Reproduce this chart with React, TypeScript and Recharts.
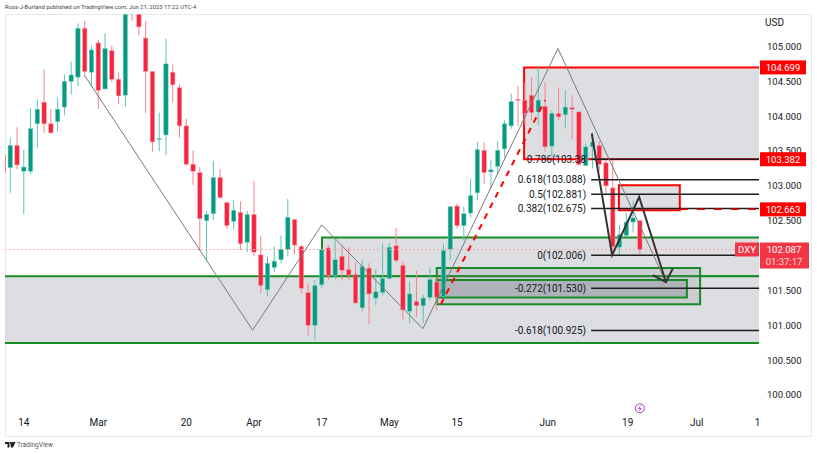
import {
  Bar,
  ComposedChart,
  Line,
  ReferenceArea,
  ReferenceDot,
  ReferenceLine,
  XAxis,
  YAxis,
} from "recharts";

const opens = [103.44, 103.26, 103.58, 103.21, 103.21, 103.89, 104.2, 103.89, 103.92, 104.13, 104.5, 104.56, 105.26, 104.63, 105.05, 104.39, 104.94, 104.53, 104.3, 105.75, 105.6, 105.12, 104.64, 103.67, 103.73, 104.63, 104.41, 103.86, 103.31, 103.19, 102.5, 102.6, 103.12, 102.76, 102.49, 102.62, 102.19, 102.59, 102.01, 101.51, 101.83, 101.94, 102.09, 102.52, 102.13, 101.47, 101.0, 101.58, 102.11, 101.71, 101.99, 101.8, 101.73, 101.25, 101.82, 101.39, 101.47, 101.67, 102.14, 101.86, 101.2, 101.34, 101.28, 101.4, 101.62, 101.41, 102.09, 102.71, 102.43, 102.61, 102.9, 103.51, 103.2, 103.28, 103.53, 103.86, 104.24, 104.23, 104.3, 104.06, 104.14, 103.57, 104.04, 104.02, 104.12, 104.06, 103.29, 103.56, 103.58, 103.33, 102.97, 102.12, 102.29, 102.48, 102.5];
const highs = [103.5, 103.69, 103.84, 103.52, 104.12, 104.24, 104.67, 104.1, 104.26, 104.6, 104.78, 105.33, 105.37, 105.01, 105.1, 105.19, 105.01, 104.63, 105.75, 105.9, 105.7, 105.36, 104.64, 104.05, 105.11, 104.74, 104.46, 103.96, 103.51, 103.27, 102.64, 103.36, 103.24, 102.77, 102.79, 102.78, 102.64, 103.07, 102.28, 101.99, 102.13, 102.29, 102.81, 102.52, 102.16, 101.6, 101.65, 102.09, 102.15, 102.25, 102.15, 102.12, 101.91, 101.94, 101.89, 101.8, 102.17, 102.18, 102.4, 101.92, 101.63, 101.78, 101.44, 101.83, 101.7, 102.16, 102.71, 102.75, 102.7, 103.1, 103.63, 103.62, 103.37, 103.64, 103.94, 104.32, 104.43, 104.48, 104.56, 104.7, 104.49, 104.08, 104.41, 104.37, 104.3, 104.07, 103.61, 103.77, 103.64, 103.4, 103.37, 102.44, 102.61, 102.79, 102.51];
const lows = [103.15, 102.9, 103.24, 102.59, 103.17, 103.54, 103.76, 103.75, 103.78, 104.01, 104.31, 104.43, 104.56, 104.42, 104.1, 104.38, 104.49, 104.17, 104.13, 105.37, 105.16, 104.04, 103.49, 103.5, 103.44, 104.2, 103.69, 103.29, 103.01, 102.07, 101.92, 102.51, 102.82, 102.38, 102.37, 102.08, 102.05, 101.99, 101.46, 101.42, 101.76, 101.89, 101.99, 102.02, 101.46, 100.85, 100.79, 101.54, 101.65, 101.66, 101.64, 101.65, 101.31, 101.2, 101.02, 101.29, 101.43, 101.66, 101.9, 101.07, 101.03, 101.12, 101.03, 101.36, 101.22, 101.4, 101.93, 102.39, 102.22, 102.55, 102.79, 103.03, 102.96, 103.16, 103.41, 103.82, 103.85, 103.88, 103.94, 103.87, 103.49, 103.41, 103.94, 103.82, 103.67, 103.29, 103.28, 103.25, 103.22, 102.87, 102.01, 102.01, 102.28, 102.33, 102.02];
const closes = [103.19, 103.58, 103.3, 103.27, 103.82, 104.1, 103.89, 103.76, 104.1, 104.5, 104.59, 105.26, 104.64, 104.95, 104.37, 104.97, 104.53, 104.29, 105.6, 105.62, 105.28, 104.64, 103.63, 103.68, 104.75, 104.45, 103.86, 103.31, 103.21, 102.53, 102.59, 103.12, 102.83, 102.43, 102.65, 102.17, 102.59, 102.05, 101.57, 101.89, 101.92, 102.09, 102.55, 102.15, 101.53, 101.0, 101.57, 102.09, 101.71, 101.94, 101.79, 101.72, 101.32, 101.84, 101.45, 101.48, 101.67, 102.12, 101.93, 101.22, 101.45, 101.28, 101.39, 101.66, 101.4, 102.07, 102.7, 102.43, 102.6, 102.86, 103.52, 103.19, 103.23, 103.51, 103.89, 104.21, 104.23, 104.04, 104.05, 104.23, 103.56, 104.04, 103.99, 104.13, 104.1, 103.31, 103.56, 103.63, 103.31, 103, 102.13, 102.3, 102.48, 102.54, 102.087];

// 102.000 sits behind the DXY tag in the reference, so it is left out
const priceTicks = [105, 104.5, 104, 103.5, 103, 102.5, 101.5, 101, 100.5, 100];
const timeTicks = [2, 13, 26, 36, 46, 56, 66, 79.4, 91.2, 101.4, 110.4];
const timeLabels = ["14", "Mar", "20", "Apr", "17", "May", "15", "Jun", "19", "Jul", "1"];

const swingLine = [
  { i: 11, p: 104.58 },
  { i: 35.8, p: 100.93 },
  { i: 46, p: 102.44 },
  { i: 60.95, p: 100.95 },
  { i: 80.9, p: 104.97 },
  { i: 96.7, p: 101.65 },
];
const arrowLine = [
  { i: 85.9, p: 103.75 },
  { i: 88.9, p: 102.006 },
  { i: 92.9, p: 102.84 },
  { i: 96.85, p: 101.62 },
];
const arrowHead = [
  { i: 94.9, p: 101.72 },
  { i: 96.85, p: 101.62 },
  { i: 97.9, p: 101.82 },
];
const dashedTrend = [
  { i: 63.6, p: 101.3 },
  { i: 79, p: 104.23 },
];

const fibLevels = [
  { label: "0.786(103.38", p: 103.382 },
  { label: "0.618(103.088)", p: 103.088 },
  { label: "0.5(102.881)", p: 102.881 },
  { label: "0.382(102.675)", p: 102.675 },
  { label: "0(102.006)", p: 102.006 },
  { label: "-0.272(101.530)", p: 101.53 },
  { label: "-0.618(100.925)", p: 100.925 },
];
const redTags = [104.699, 103.382, 102.663];

const X_MIN = -0.78;
const X_MAX = 110.6;
// boxes that run off the pane are drawn past it and clipped, so no end stroke shows
const OFF_LEFT = -4;
const OFF_RIGHT = 114;
const FIB_START = 85.8;
const FONT = "Roboto, sans-serif";
const INK = "#131722";

const rows = opens.map((open, k) => ({
  i: k - 1,
  open,
  high: highs[k],
  low: lows[k],
  close: closes[k],
  range: [lows[k], highs[k]],
}));

function Candle(props: any) {
  const { x, y, width, height, payload } = props;
  const up = payload.close >= payload.open;
  const perUnit = height / (payload.high - payload.low);
  const top = y + (payload.high - Math.max(payload.open, payload.close)) * perUnit;
  const body = Math.max(Math.abs(payload.close - payload.open) * perUnit, 1);
  const cx = x + width / 2;
  return (
    <g>
      <line x1={cx} x2={cx} y1={y} y2={y + height} stroke={up ? "#5cc4b1" : "#f9808c"} strokeWidth={1} />
      <rect
        x={cx - 2.2}
        y={top}
        width={4.4}
        height={body}
        fill={up ? "#089981" : "#f5263f"}
        stroke={up ? "#7fd3c4" : "#fb9aa3"}
        strokeWidth={0.5}
      />
    </g>
  );
}

function PriceTag({ viewBox, value }: any) {
  const x = viewBox.x + viewBox.width + 1;
  return (
    <g>
      <rect x={x} y={viewBox.y - 7} width={46} height={14} fill="#ff0000" />
      <text x={x + 23} y={viewBox.y + 3.5} textAnchor="middle" fill="#fff" fontSize={9.5} fontFamily={FONT}>
        {value}
      </text>
    </g>
  );
}

function LastPriceTag({ viewBox }: any) {
  const x = viewBox.x + viewBox.width;
  const y = viewBox.y - 7;
  return (
    <g fontFamily={FONT} fontSize={9.5} fill="#fff">
      <rect x={x - 24} y={y} width={24} height={14} fill="#f23645" />
      <text x={x - 12} y={y + 10.5} textAnchor="middle">DXY</text>
      <rect x={x + 1} y={y} width={49} height={26} fill="#f23645" />
      <text x={x + 25} y={y + 10.5} textAnchor="middle">102.087</text>
      <text x={x + 25} y={y + 22} textAnchor="middle" fillOpacity={0.8}>01:37:17</text>
    </g>
  );
}

function FibLabel({ viewBox, text }: any) {
  return (
    <text x={viewBox.x - 5} y={viewBox.y + 3.5} textAnchor="end" fill={INK} fontSize={10} fontFamily={FONT}>
      {text}
    </text>
  );
}

function BoltIcon({ cx, cy }: any) {
  return (
    <g fill="none" stroke="#9c27b0">
      <circle cx={cx} cy={cy} r={4.5} strokeWidth={0.9} />
      <path d={`M${cx + 0.8} ${cy - 2.6}L${cx - 1.4} ${cy + 0.3}H${cx + 1.4}L${cx - 0.8} ${cy + 2.6}`} strokeWidth={0.8} />
    </g>
  );
}

export default function App() {
  return (
    <div style={{ position: "absolute", left: 0, top: 0, width: 817, height: 454, background: "#fff", overflow: "hidden" }}>
      <div style={{ position: "absolute", left: 5, top: 3, fontFamily: FONT, fontSize: 5.9, lineHeight: "9px", color: "#444", whiteSpace: "nowrap" }}>
        Ross-J-Burland published on TradingView.com, Jun 21, 2023 17:22 UTC-4
      </div>
      <div style={{ position: "absolute", left: 5, top: 14, width: 805, height: 421, border: "1px solid #e6e8ee" }} />
      <div style={{ position: "absolute", left: 765, top: 17, fontFamily: FONT, fontSize: 10, lineHeight: "12px", color: INK }}>USD</div>
      <svg style={{ position: "absolute", left: 5, top: 442 }} width={11} height={6}>
        <path d="M0 0H4.5V5.5H2.5V2H0ZM5 0H10.5L8 5.5H6Z" fill="#222" />
      </svg>
      <div style={{ position: "absolute", left: 17, top: 440, fontFamily: FONT, fontSize: 6.5, lineHeight: "10px", color: "#555" }}>TradingView</div>

      <ComposedChart
        width={817}
        height={454}
        data={rows}
        margin={{ top: 14.5, right: 0, bottom: 0, left: 5 }}
        style={{ position: "absolute", left: 0, top: 0 }}
      >
        <XAxis
          dataKey="i"
          type="number"
          domain={[X_MIN, X_MAX]}
          allowDataOverflow
          ticks={timeTicks}
          interval={0}
          height={42}
          axisLine={false}
          tickLine={false}
          tickSize={0}
          tickMargin={7}
          tick={{ fontSize: 10, fill: INK, fontFamily: FONT }}
          tickFormatter={(v: number) => timeLabels[timeTicks.indexOf(v)]}
        />
        <YAxis
          orientation="right"
          type="number"
          width={58}
          domain={[99.756, 105.458]}
          allowDataOverflow
          ticks={priceTicks}
          interval={0}
          axisLine={false}
          tickLine={false}
          tickSize={0}
          tickMargin={8}
          tick={{ fontSize: 9.5, fill: INK, fontFamily: FONT }}
          tickFormatter={(v: number) => v.toFixed(3)}
        />

        <ReferenceArea x1={75.9} x2={OFF_RIGHT} y1={104.699} y2={103.382} ifOverflow="hidden" fill="#dcdee2" fillOpacity={1} stroke="#ff0000" strokeWidth={2} />
        <ReferenceArea x1={46.05} x2={OFF_RIGHT} y1={102.26} y2={101.705} ifOverflow="hidden" fill="#dcdee2" fillOpacity={1} stroke="#178c25" strokeWidth={2} />
        <ReferenceArea x1={OFF_LEFT} x2={OFF_RIGHT} y1={101.705} y2={100.745} ifOverflow="hidden" fill="#dcdee2" fillOpacity={1} stroke="#178c25" strokeWidth={2} />
        <ReferenceArea x1={63} x2={101.9} y1={101.82} y2={101.3} fill="#787b86" fillOpacity={0.18} stroke="#178c25" strokeWidth={2} />
        <ReferenceArea x1={63} x2={99.95} y1={101.65} y2={101.4} fill="#787b86" fillOpacity={0.32} stroke="#178c25" strokeWidth={2} />
        <ReferenceArea x1={89.9} x2={98.9} y1={103.01} y2={102.65} fill="#dcdee2" fillOpacity={1} stroke="#ff0000" strokeWidth={2} />

        <ReferenceLine y={102.087} stroke="#f7a9b0" strokeWidth={1} strokeDasharray="2 2" />
        {fibLevels.map((f) => (
          <ReferenceLine
            key={f.label}
            segment={[{ x: FIB_START, y: f.p }, { x: X_MAX, y: f.p }]}
            stroke="#1c1c1c"
            strokeWidth={1.5}
            label={<FibLabel text={f.label} />}
          />
        ))}
        <ReferenceLine
          segment={[{ x: 98.9, y: 102.663 }, { x: X_MAX, y: 102.663 }]}
          stroke="#ff0000"
          strokeWidth={1.5}
          strokeDasharray="8 9"
        />

        <Bar dataKey="range" barSize={5} shape={<Candle />} isAnimationActive={false} />

        <Line data={swingLine} dataKey="p" stroke="#7a7a7a" strokeWidth={1} dot={false} isAnimationActive={false} />
        <Line data={dashedTrend} dataKey="p" stroke="#ff0000" strokeWidth={2} strokeDasharray="6 6" dot={false} isAnimationActive={false} />
        <Line data={arrowLine} dataKey="p" stroke="#333333" strokeWidth={2} dot={false} isAnimationActive={false} />
        <Line data={arrowHead} dataKey="p" stroke="#333333" strokeWidth={2} dot={false} isAnimationActive={false} />

        <ReferenceDot x={93} y={99.81} r={5} shape={<BoltIcon />} />
        {redTags.map((p) => (
          <ReferenceLine key={p} y={p} stroke="none" zIndex={3000} label={<PriceTag value={p.toFixed(3)} />} />
        ))}
        <ReferenceLine y={102.087} stroke="none" zIndex={3000} label={<LastPriceTag />} />
      </ComposedChart>
    </div>
  );
}
